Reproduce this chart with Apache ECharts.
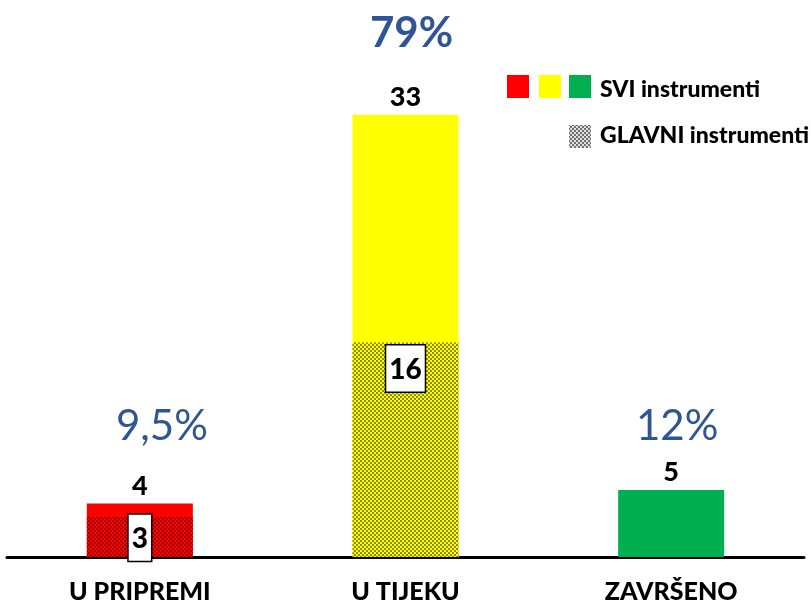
<!DOCTYPE html>
<html><head><meta charset="utf-8">
<script src="https://cdn.jsdelivr.net/npm/echarts@6/dist/echarts.min.js"></script>
<style>html,body{margin:0;padding:0;background:#fff}#c{width:811px;height:611px}</style>
</head><body><div id="c"></div>
<script>
const categories = ['U PRIPREMI', 'U TIJEKU', 'ZAVRŠENO'];
const sviValues = [4, 33, 5];
const glavniValues = [3, 16, null];
const pctLabels = ['9,5%', '79%', '12%'];
const legendSvi = 'SVI instrumenti';
const legendGlavni = 'GLAVNI instrumenti';

const baseColors = ['#ff0000', '#ffff00', '#00b050'];
const darkColors = ['#a00000', '#8a8a00', '#006030'];
const FONT = 'Lato, "Noto Sans", sans-serif';

function checker(base, dark) {
  const c = document.createElement('canvas');
  c.width = 4; c.height = 4;
  const g = c.getContext('2d');
  g.fillStyle = base; g.fillRect(0, 0, 4, 4);
  g.fillStyle = dark; g.fillRect(0, 0, 2, 2); g.fillRect(2, 2, 2, 2);
  return c;
}

const chart = echarts.init(document.getElementById('c'));
const option = {
  animation: false,
  grid: { left: 7, right: 7, top: 21, bottom: 54 },
  xAxis: {
    type: 'category', data: categories,
    axisLine: { lineStyle: { color: '#000', width: 3 } },
    axisTick: { show: false },
    axisLabel: { color: '#000', fontFamily: FONT, fontWeight: 900, fontSize: 25, margin: 22 }
  },
  yAxis: { type: 'value', min: 0, max: 40, show: false, splitLine: { show: false } },
  series: [
    {
      type: 'bar', barWidth: 106, barGap: '-100%',
      data: sviValues.map((v, i) => ({ value: v, itemStyle: { color: baseColors[i] } })),
      label: { show: true, position: 'top', distance: 4, color: '#000', fontFamily: FONT, fontWeight: 900, fontSize: 27 },
      z: 2
    },
    {
      type: 'bar', barWidth: 106, barGap: '-100%',
      data: glavniValues.map((v, i) => ({
        value: v,
        itemStyle: { color: { image: checker(baseColors[i], darkColors[i]), repeat: 'repeat' } },
        label: i === 0 ? { offset: [0, -5] } : {}
      })),
      label: {
        show: true, position: 'insideTop', distance: 3,
        color: '#000', fontFamily: FONT, fontWeight: 900, fontSize: 28,
        backgroundColor: '#fff', borderColor: '#000', borderWidth: 1.5,
        padding: [10, 3, 8, 3]
      },
      z: 3
    }
  ],
  graphic: []
};
chart.setOption(option);

// percentage annotations above the categories
const pctShift = [22, 6, 6];
const pctGraphics = categories.map((c, i) => {
  const x = chart.convertToPixel({ xAxisIndex: 0 }, c) + pctShift[i];
  const big = i === 1;
  return {
    type: 'text', x: x, y: big ? 33 : 426,
    style: {
      text: pctLabels[i], fill: '#2f5597', font: (big ? 'bold 42px ' : '42px ') + FONT,
      textAlign: 'center', textVerticalAlign: 'middle'
    }
  };
});
const legendGraphics = [
  { type: 'rect', shape: { x: 507, y: 75, width: 22, height: 23 }, style: { fill: baseColors[0] } },
  { type: 'rect', shape: { x: 539, y: 75, width: 22, height: 23 }, style: { fill: baseColors[1] } },
  { type: 'rect', shape: { x: 569, y: 75, width: 22, height: 23 }, style: { fill: baseColors[2] } },
  { type: 'rect', shape: { x: 569, y: 125, width: 22, height: 23 }, style: { fill: { image: checker('#e0e0e0', '#707070'), repeat: 'repeat' } } },
  { type: 'text', x: 600, y: 90, style: { text: legendSvi, fill: '#000', font: '900 23px ' + FONT, textVerticalAlign: 'middle' } },
  { type: 'text', x: 600, y: 136, style: { text: legendGlavni, fill: '#000', font: '900 23px ' + FONT, textVerticalAlign: 'middle' } }
];
chart.setOption({ graphic: pctGraphics.concat(legendGraphics) });
</script></body></html>
